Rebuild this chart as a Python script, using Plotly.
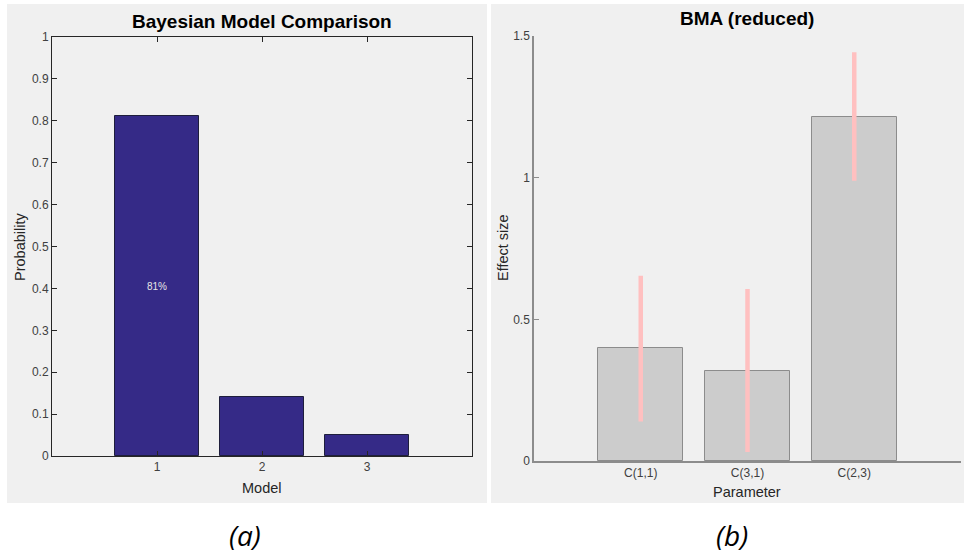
import plotly.graph_objects as go

# ---- data ----
models = [1, 2, 3]
model_prob = [0.811, 0.141, 0.050]
model_labels = ["81%", "", ""]

params = ["C(1,1)", "C(3,1)", "C(2,3)"]
param_pos = [1, 2, 3]
effect = [0.398, 0.318, 1.215]
ci_upper = [0.654, 0.607, 1.443]
ci_lower = [0.139, 0.032, 0.989]

W, H = 964, 555
def px(x): return x / W
def py(y): return 1 - y / H

fig = go.Figure()

fig.add_trace(go.Bar(
    x=models, y=model_prob, width=0.8,
    marker=dict(color="#352a87", line=dict(color="#1e1e3c", width=1)),
    xaxis="x", yaxis="y", showlegend=False, hoverinfo="skip"))

fig.add_trace(go.Bar(
    x=param_pos, y=effect, width=0.8,
    marker=dict(color="#cccccc", line=dict(color="#8c8c8c", width=1)),
    error_y=dict(type="data", symmetric=False,
                 array=[u - e for u, e in zip(ci_upper, effect)],
                 arrayminus=[e - l for e, l in zip(effect, ci_lower)],
                 color="#ffc0c0", thickness=4.5, width=0),
    xaxis="x2", yaxis="y2", showlegend=False, hoverinfo="skip"))

tickfont = dict(family="Liberation Sans, Arial, sans-serif", size=12, color="#404040")

fig.update_layout(
    width=W, height=H, margin=dict(l=0, r=0, t=0, b=0, pad=0, autoexpand=False),
    paper_bgcolor="white", plot_bgcolor="white",
    bargap=0, showlegend=False,
    xaxis=dict(domain=[px(52), px(472)], range=[0, 4], tickvals=models,
               ticktext=[str(m) for m in models], automargin=False,
               ticks="inside", ticklen=5, tickcolor="#262626",
               showline=True, linecolor="#262626", linewidth=1, mirror="ticks",
               showgrid=False, zeroline=False, tickfont=tickfont, anchor="y"),
    yaxis=dict(domain=[py(456), py(37)], range=[0, 1], automargin=False,
               tickvals=[i / 10 for i in range(11)],
               ticktext=["0", "0.1", "0.2", "0.3", "0.4", "0.5", "0.6", "0.7", "0.8", "0.9", "1"],
               ticks="inside", ticklen=5, tickcolor="#262626",
               showline=True, linecolor="#262626", linewidth=1, mirror="ticks",
               showgrid=False, zeroline=False, tickfont=tickfont, anchor="x"),
    xaxis2=dict(domain=[px(534), px(961)], range=[0, 4], tickvals=param_pos,
                ticktext=params, ticks="", automargin=False,
                showline=True, linecolor="#8c8c8c", linewidth=1.5,
                showgrid=False, zeroline=False, tickfont=tickfont, anchor="y2"),
    yaxis2=dict(domain=[py(461), py(36)], range=[0, 1.5], automargin=False,
                tickvals=[0, 0.5, 1, 1.5], ticktext=["0", "0.5", "1", "1.5"],
                ticks="inside", ticklen=5, tickcolor="#8c8c8c",
                showline=True, linecolor="#8c8c8c", linewidth=1.5,
                showgrid=False, zeroline=False, tickfont=tickfont, anchor="x2"),
    shapes=[
        dict(type="rect", xref="paper", yref="paper", x0=px(7), x1=px(487),
             y0=py(503), y1=py(4), fillcolor="#f0f0f0", line=dict(width=0), layer="below"),
        dict(type="rect", xref="paper", yref="paper", x0=px(491), x1=px(964),
             y0=py(503), y1=py(4), fillcolor="#f0f0f0", line=dict(width=0), layer="below"),
    ],
)

lab = dict(family="Liberation Sans, Arial, sans-serif", size=14.5, color="#262626")
ttl = dict(family="Liberation Sans, Arial, sans-serif", size=19, color="#000000")
cap = dict(family="Open Sans, sans-serif", size=28, color="#000000")

anns = [
    dict(text="<b>Bayesian Model Comparison</b>", x=px(262), y=py(21), font=ttl),
    dict(text="<b>BMA (reduced)</b>", x=px(747), y=py(19), font=ttl),
    dict(text="Model", x=px(262), y=py(488), font=lab),
    dict(text="Parameter", x=px(747), y=py(492), font=lab),
    dict(text="Probability", x=px(20), y=py(247), font=lab, textangle=-90),
    dict(text="Effect size", x=px(503), y=py(248), font=lab, textangle=-90),
    dict(text="<i>(a)</i>", x=px(245), y=py(535), font=cap),
    dict(text="<i>(b)</i>", x=px(732), y=py(535), font=cap),
]
for a in anns:
    a.update(xref="paper", yref="paper", showarrow=False, xanchor="center", yanchor="middle")
    fig.add_annotation(**a)

for m, p, t in zip(models, model_prob, model_labels):
    if t:
        fig.add_annotation(x=m, y=p / 2, xref="x", yref="y", text=t, showarrow=False,
                           font=dict(family="Liberation Sans, Arial, sans-serif", size=10,
                                     color="#e6e6e6"))

fig.write_html("out.html")
